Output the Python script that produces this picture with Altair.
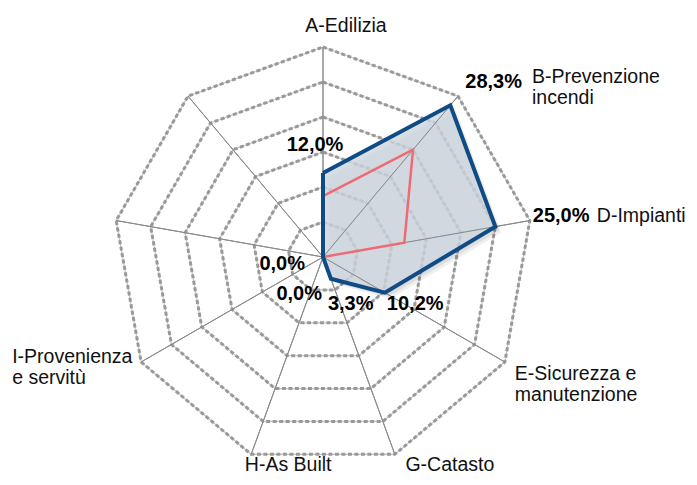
import math
import altair as alt
import pandas as pd

# ---- data ----
categories = ["A-Edilizia", "B-Prevenzione\nincendi", "D-Impianti",
              "E-Sicurezza e\nmanutenzione", "G-Catasto", "H-As Built",
              "I-Provenienza\ne servitù", "", ""]
series_blue = [12.0, 28.3, 25.0, 10.2, 3.3, 0.0, 0.0, 0.0, 0.0]
series_red = [8.7, 20.0, 11.8, 0.0, 0.0, 0.0, 0.0, 0.0, 0.0]
value_labels = ["12,0%", "28,3%", "25,0%", "10,2%", "3,3%", "0,0%", "0,0%", "", ""]
ring_values = [5, 10, 15, 20, 25, 30]
r_max = 30

# ---- layout ----
W, H = 681, 469
PX = 7.0                 # pixels per percent
CX, CY = 315, 249        # center within plot area
N = len(categories)
xdom = [-CX / PX, (W - CX) / PX]
ydom = [CY / PX - H / PX, CY / PX]


def ang(k):
    return math.radians(360.0 / N * k)


def polar(r, k):
    return r * math.sin(ang(k)), r * math.cos(ang(k))


def poly_df(vals, name, ox=0.0, oy=0.0):
    rows = []
    for i in range(N + 1):
        k = i % N
        x, y = polar(vals[k], k)
        rows.append({"x": x + ox / PX, "y": y - oy / PX, "o": i, "s": name})
    return pd.DataFrame(rows)


grid_rows = []
for r in ring_values:
    for i in range(N + 1):
        x, y = polar(r, i % N)
        grid_rows.append({"x": x, "y": y, "o": i, "ring": r})
grid_df = pd.DataFrame(grid_rows)

spoke_rows = []
for k in range(N):
    x, y = polar(r_max, k)
    spoke_rows.append({"x": 0.0, "y": 0.0, "x2": x, "y2": y})
spoke_df = pd.DataFrame(spoke_rows)

X = alt.X("x:Q", scale=alt.Scale(domain=xdom, nice=False, zero=False), axis=None)
Y = alt.Y("y:Q", scale=alt.Scale(domain=ydom, nice=False, zero=False), axis=None)

grid_under = alt.Chart(grid_df).mark_line(
    stroke="#c4c4c4", strokeWidth=1.2
).encode(x=X, y=Y, order="o:Q", detail="ring:N")
grid = alt.Chart(grid_df).mark_line(
    stroke="#999999", strokeWidth=3, strokeDash=[4, 2.5]
).encode(x=X, y=Y, order="o:Q", detail="ring:N")

spokes = alt.Chart(spoke_df).mark_rule(stroke="#8a8a8a", strokeWidth=1).encode(
    x=X, y=Y, x2="x2:Q", y2="y2:Q")

shadows = []
for off, op in [(2, 0.07), (4, 0.07), (6, 0.06)]:
    shadows.append(
        alt.Chart(poly_df(series_blue, "sh", off, off)).mark_line(
            filled=True, color="#000000", opacity=op, strokeWidth=0
        ).encode(x=X, y=Y, order="o:Q"))

blue_df = poly_df(series_blue, "blue")
red_df = poly_df(series_red, "red")

fill = alt.Chart(blue_df).mark_line(
    filled=True, color="#d2dae4", opacity=0.8
).encode(x=X, y=Y, order="o:Q")
spokes_top = alt.Chart(spoke_df).mark_rule(stroke="#8a8a8a", strokeWidth=1).encode(
    x=X, y=Y, x2="x2:Q", y2="y2:Q")
red_line = alt.Chart(red_df).mark_line(
    stroke="#ee6b74", strokeWidth=2.5, strokeJoin="miter"
).encode(x=X, y=Y, order="o:Q")
blue_line = alt.Chart(blue_df).mark_line(
    stroke="#0f4c85", strokeWidth=4, strokeJoin="miter"
).encode(x=X, y=Y, order="o:Q")

# ---- text labels ----
# category labels anchored at outer vertex: (k, align, dx_px, dy_px)
cat_place = [(0, "center", 23, -15), (1, "left", 74, -13), (2, "left", 67, 1.5),
             (3, "left", 10, 18), (4, "center", 55, 17), (5, "center", 37, 17),
             (6, "left", -129, 1)]
# value labels: (k, anchor radius from series or outer, align, dx, dy)
val_place = [(0, "data", "center", -8, -22), (1, "outer", "right", 64, -8),
             (2, "outer", "left", 3, 1.5), (3, "data", "left", 2, 17),
             (4, "data", "left", -3, 31), (5, "data", "right", -1, 43),
             (6, "data", "right", -18, 13)]

FONT = "Liberation Sans, Arial, sans-serif"

text_layers = []
for align in ["left", "center", "right"]:
    rows = []
    for k, al, dx, dy in cat_place:
        if al != align:
            continue
        x, y = polar(r_max, k)
        rows.append({"x": x + dx / PX, "y": y - dy / PX, "t": categories[k]})
    if rows:
        text_layers.append(alt.Chart(pd.DataFrame(rows)).mark_text(
            align=align, baseline="alphabetic", font=FONT, fontSize=19.5,
            lineBreak="\n", lineHeight=21, color="#111111"
        ).encode(x=X, y=Y, text="t:N"))
    rows = []
    for k, src, al, dx, dy in val_place:
        if al != align:
            continue
        r = series_blue[k] if src == "data" else r_max
        x, y = polar(r, k)
        rows.append({"x": x + dx / PX, "y": y - dy / PX, "t": value_labels[k]})
    if rows:
        text_layers.append(alt.Chart(pd.DataFrame(rows)).mark_text(
            align=align, baseline="alphabetic", font=FONT, fontSize=20,
            fontWeight="bold", color="#000000"
        ).encode(x=X, y=Y, text="t:N"))

chart = alt.layer(
    grid_under, grid, spokes, *shadows, fill, spokes_top, red_line, blue_line,
    *text_layers
).properties(
    width=W, height=H, padding=0, background="#ffffff",
    autosize=alt.AutoSizeParams(type="none")
).configure_view(stroke=None)

chart.save("out.html", embed_options={"renderer": "svg", "actions": False})
